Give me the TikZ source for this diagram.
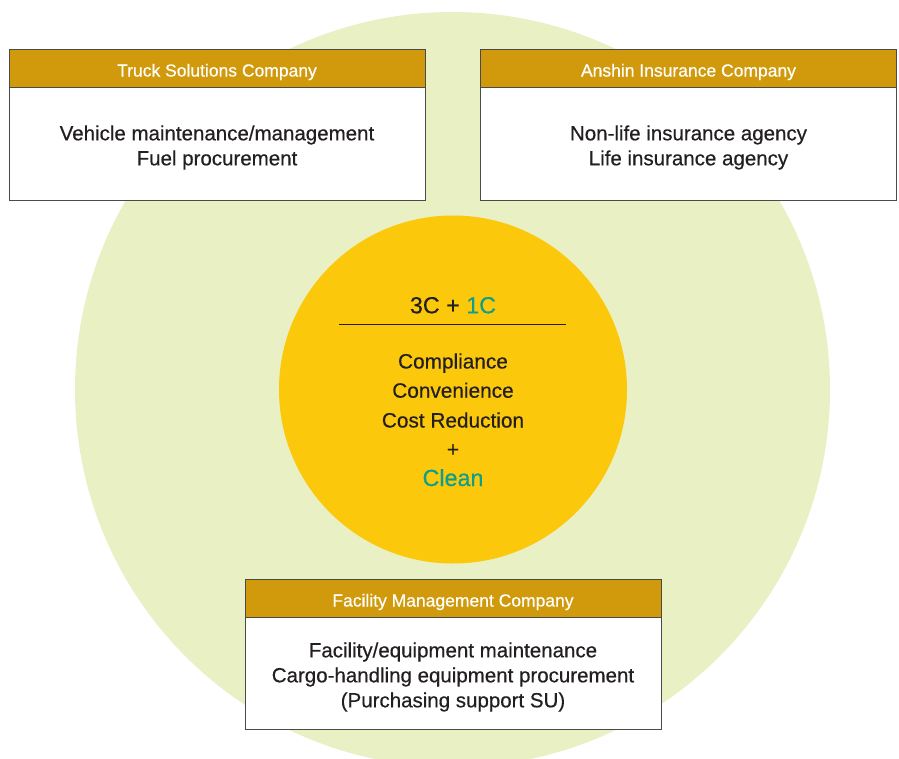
\documentclass[tikz,border=0pt]{standalone}
\usepackage{fontspec}
\setmainfont{Liberation Sans}
\newfontfamily\medfont{Liberation Sans}[FakeBold=0.45]
\definecolor{bggreen}{HTML}{E8F0C4}
\definecolor{sunyellow}{HTML}{FCC80C}
\definecolor{gold}{HTML}{D09A0C}
\definecolor{tealc}{HTML}{0E9E8A}
\definecolor{txt}{HTML}{231F20}
\definecolor{boxline}{HTML}{4A4A4A}
\begin{document}
\begin{tikzpicture}[x=1pt,y=-1pt,
  hdr/.style={rectangle, draw=boxline, line width=1pt, fill=gold,
    minimum width=416pt, minimum height=38pt, inner sep=0pt},
  hdrtext/.style={text=white, inner sep=0pt, font=\medfont\fontsize{17.5}{21}\selectfont},
  bodybox/.style={rectangle, draw=boxline, line width=1pt, fill=white,
    minimum width=416pt, minimum height=113pt, inner sep=0pt},
  bodytext/.style={text=txt, inner sep=0pt, align=center,
    font=\medfont\fontsize{20.5}{25}\selectfont},
  ctext/.style={anchor=base, text=txt, inner sep=0pt, font=\medfont\fontsize{20.8}{25}\selectfont},
  ctitle/.style={anchor=base, text=txt, inner sep=0pt, font=\medfont\fontsize{23.3}{28}\selectfont}]
\useasboundingbox (0,0) rectangle (899,758);
\begin{scope}
  \clip (0,0) rectangle (899,758);
  \fill[bggreen] (452.5,389.5) circle[radius=377.5pt];
\end{scope}
\fill[sunyellow] (453,389.5) circle[radius=174pt];
% boxes
\node[bodybox] (truckbody) at (217,143.5) {};
\node[hdr] (truckhdr) at (217,68) {};
\node[hdrtext] (truckhdrt) at (217,72) {Truck Solutions Company};
\node[bodytext] (truckt) at (217,147.5) {Vehicle maintenance/management\\Fuel procurement};
\node[bodybox] (anshinbody) at (688.5,143.5) {};
\node[hdr] (anshinhdr) at (688.5,68) {};
\node[hdrtext] (anshinhdrt) at (688.5,72) {Anshin Insurance Company};
\node[bodytext] (anshint) at (688.5,147.5) {Non-life insurance agency\\Life insurance agency};
\node[bodybox] (facbody) at (453,673) {};
\node[hdr] (fachdr) at (453,598) {};
\node[hdrtext] (fachdrt) at (453,602) {Facility Management Company};
\node[bodytext] (fact) at (453,677) {Facility/equipment maintenance\\Cargo-handling equipment procurement\\(Purchasing support SU)};
% circle text
\node[ctitle] (title) at (453,313.3) {3C + \textcolor{tealc}{1C}};
\draw[txt, line width=0.9pt] (339,324) -- (566,324);
\node[ctext] (comp) at (453,368.5) {Compliance};
\node[ctext] (conv) at (453,397.7) {Convenience};
\node[ctext] (cost) at (453,427.5) {Cost Reduction};
\node[ctext] (plus) at (453,456.5) {+};
\node[ctitle, text=tealc] (clean) at (453,486) {Clean};
\end{tikzpicture}
\end{document}
